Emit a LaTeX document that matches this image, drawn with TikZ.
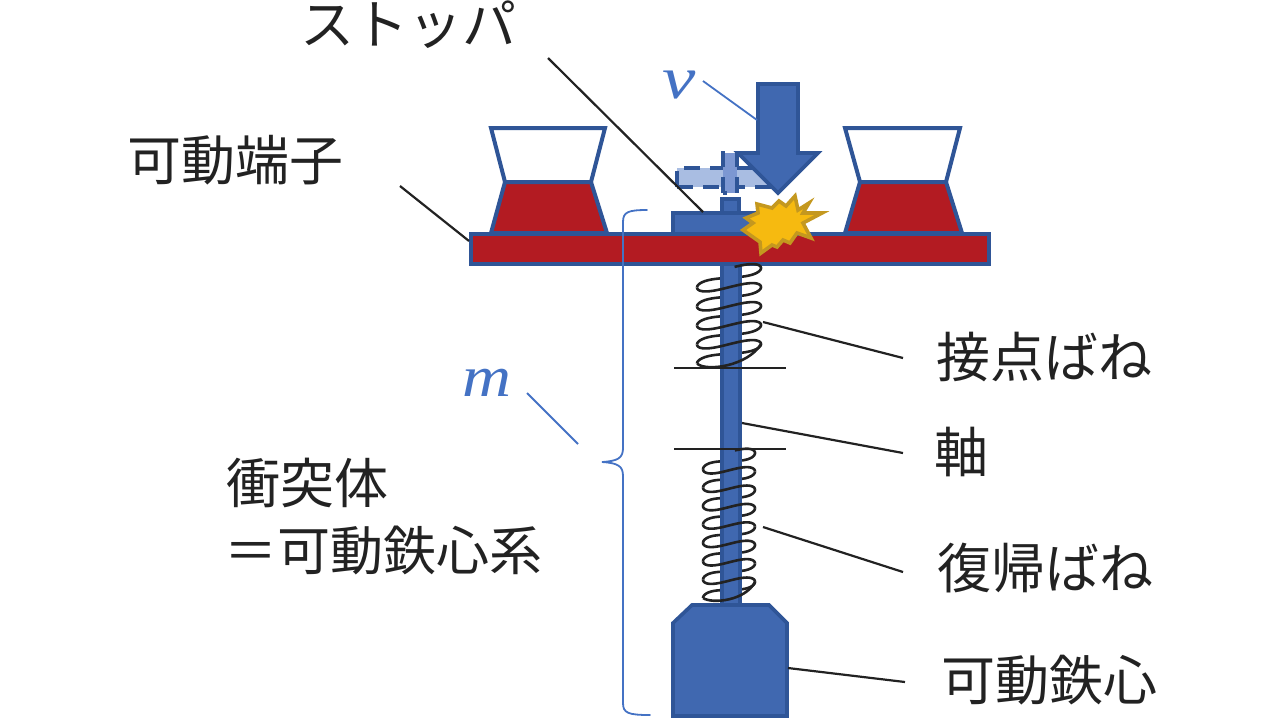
\documentclass[tikz,border=0pt]{standalone}
\usepackage{fontspec}
\usepackage{graphicx}
\setmainfont{Noto Sans CJK JP}
\newfontfamily\symfont{Liberation Serif}
\usetikzlibrary{calc}
\definecolor{bluefill}{HTML}{4068B0}
\definecolor{blueline}{HTML}{2F5597}
\definecolor{accent}{HTML}{4472C4}
\definecolor{redfill}{HTML}{B31B22}
\definecolor{gold}{HTML}{F6BA10}
\definecolor{goldline}{HTML}{C4981F}
\definecolor{ghost}{HTML}{A9BDE2}
\definecolor{ghostmid}{HTML}{7C97D2}
\definecolor{ink}{HTML}{222222}
\tikzset{
  blueshape/.style={fill=bluefill,draw=blueline,line width=1.8pt,line join=miter},
  contact/.style={fill=redfill,draw=blueline,line width=2pt,line join=miter},
  cup/.style={fill=white,draw=blueline,line width=2pt,line join=miter},
  ghostbar/.style={draw=blueline,line width=1.8pt,dash pattern=on 8pt off 5pt},
  leader/.style={draw=ink,line width=1.1pt},
  bluelead/.style={draw=accent,line width=0.9pt},
  coil/.style={draw=ink,line width=1.3pt,smooth,samples=40},
  label/.style={font=\fontsize{27pt}{30pt}\selectfont,text=ink,anchor=west,inner sep=0pt},
  symb/.style={text=accent,inner sep=0pt}
}
\begin{document}
\begin{tikzpicture}[x=0.5pt,y=-0.5pt]
\useasboundingbox (0,0) rectangle (1284,720);
% contacts
\draw[cup] (491,128)--(605,128)--(591,182)--(505,182)--cycle;
\draw[contact] (505,182)--(591,182)--(607,233)--(491,233)--cycle;
\draw[cup] (845,128)--(960,128)--(946,182)--(860,182)--cycle;
\draw[contact] (860,182)--(946,182)--(962,233)--(845,233)--cycle;
% ghost stopper
\fill[ghost] (677,168) rectangle (772,187);
\draw[ghostbar] (677,187)--(677,168)--(772,168);
\draw[ghostbar] (677,187)--(772,187);
\fill[ghostmid] (723,153) rectangle (737,193);
\draw[ghostbar] (723,193)--(723,153)--(737,153)--(737,193)--cycle;
% stopper
\draw[blueshape] (722,199) rectangle (739,213);
\draw[blueshape] (673,213) rectangle (760,234);
% moving contact bar
\draw[contact] (471,234) rectangle (989,264);
% springs, rear strands behind the shaft
\foreach \n in {0,...,4}
  \draw[coil] plot[variable=\t,domain=360*\n:360*\n+180] ({729+32*cos(\t)},{273+19*(\t/360)-5*cos(\t)+3*sin(2*\t)});
\foreach \n in {0,...,7}
  \draw[coil] plot[variable=\t,domain=360*\n:360*\n+180] ({729+26*cos(\t)},{456.5+18.4*(\t/360)-3.5*cos(\t)+3*sin(2*\t)});
% shaft
\draw[blueshape] (722,264) rectangle (740,606);
% horizontal seats
\draw[leader] (674,368)--(786,368);
\draw[leader] (674,449)--(786,449);
% springs, front strands
\draw[coil] plot[variable=\t,domain=-80:0] ({729+32*cos(\t)},{273+19*(\t/360)-5*cos(\t)+3*sin(2*\t)});
\foreach \n in {0,...,3}
  \draw[coil] plot[variable=\t,domain=360*\n+180:360*\n+360] ({729+32*cos(\t)},{273+19*(\t/360)-5*cos(\t)+3*sin(2*\t)});
\draw[coil] (697,363.5) .. controls (706,372) and (748,366) .. (761,344);
\draw[coil] plot[variable=\t,domain=-77:0] ({729+26*cos(\t)},{456.5+18.4*(\t/360)-3.5*cos(\t)+3*sin(2*\t)});
\foreach \n in {0,...,6}
  \draw[coil] plot[variable=\t,domain=360*\n+180:360*\n+360] ({729+26*cos(\t)},{456.5+18.4*(\t/360)-3.5*cos(\t)+3*sin(2*\t)});
\draw[coil] (703,598) .. controls (712,604) and (745,601) .. (755,582);
% armature
\draw[blueshape] (692,605)--(769,605)--(787,623)--(787,716)--(673,716)--(673,623)--cycle;
% burst
\draw[fill=gold,draw=goldline,line width=1.8pt,line join=miter]
 (795,196)--(798,210)--(809,203)--(803,213)--(822,213)--(803,223)--(811,238)--(797,233)--(790,243)--(783,240)--(777,247)--(772,245)--(761,253)--(760,242)--(743,230)--(753,223)--(746,218)--(758,213)--(757,204)--(772,208)--(779,201)--(786,206)--cycle;
% arrow
\draw[blueshape] (758,84)--(798,84)--(798,153)--(818,153)--(778,193)--(738,153)--(758,153)--cycle;
% brace
\draw[accent,line width=0.9pt,line cap=round] (647,210) .. controls (628,210) and (623,212) .. (623,222)
  -- (623,448) .. controls (623,458) and (618,461) .. (602,462)
  .. controls (618,463) and (623,466) .. (623,476) -- (623,703)
  .. controls (623,713) and (628,715) .. (650,715);
% labels
\node[label] (stopper) at (300,25) {ストッパ};
\node[label] (terminal) at (127,160) {可動端子};
\node[label] (contactspring) at (936,357) {接点ばね};
\node[label] (axis) at (934,452) {軸};
\node[label] (returnspring) at (937,568) {復帰ばね};
\node[label] (core) at (941,680) {可動鉄心};
\node[label] (body1) at (226,483) {衝突体};
\node[label,font=\fontsize{26.5pt}{30pt}\selectfont] (body2) at (224,550) {＝可動鉄心系};
\node[symb,font=\symfont\itshape\fontsize{30pt}{30pt}\selectfont] (vsym) at (679,85) {\scalebox{1.25}[1]{v}};
\node[symb,font=\symfont\itshape\fontsize{29pt}{29pt}\selectfont] (msym) at (487,383) {\scalebox{1.17}[1]{m}};
% connector ends
\coordinate (a1) at (548,58); \coordinate (a2) at (703,212);
\coordinate (b1) at (400,186); \coordinate (b2) at (469,241);
\coordinate (c1) at (903,358); \coordinate (c2) at (763,322);
\coordinate (d1) at (903,453); \coordinate (d2) at (742,423);
\coordinate (e1) at (903,572); \coordinate (e2) at (763,527);
\coordinate (f1) at (905,682); \coordinate (f2) at (788,668);
\coordinate (g1) at (703,81); \coordinate (g2) at (757,120);
\coordinate (h1) at (527,393); \coordinate (h2) at (578,444);
\draw[leader] (a1)--(a2);
\draw[leader] (b1)--(b2);
\draw[leader] (c1)--(c2);
\draw[leader] (d1)--(d2);
\draw[leader] (e1)--(e2);
\draw[leader] (f1)--(f2);
\draw[bluelead] (g1)--(g2);
\draw[bluelead] (h1)--(h2);
\end{tikzpicture}
\end{document}
